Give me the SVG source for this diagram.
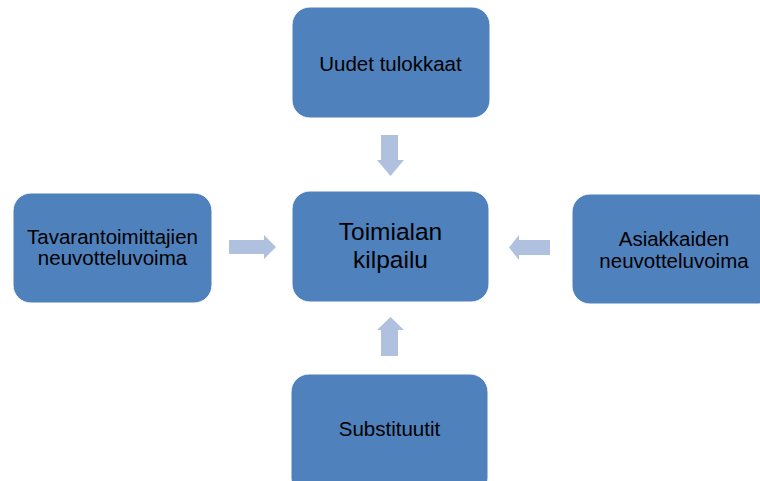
<svg xmlns="http://www.w3.org/2000/svg" width="760" height="481" viewBox="0 0 760 481">
<style>
.node{fill:#4F81BD;stroke:#ffffff;stroke-width:1}
.arr{fill:#AFC1DE}
text{font-family:"Liberation Sans",Arial,sans-serif;fill:#000;text-anchor:middle}
.s{font-size:20.5px}
.l{font-size:24.5px}
</style>
<rect width="760" height="481" fill="#ffffff"/>
<g id="connectors">
<polygon class="arr" points="381,135 398,135 398,160 404,160 390.5,176 377,160 381,160"/>
<polygon class="arr" points="381,356 398,356 398,330 404,330 390.5,317 377,330 381,330"/>
<polygon class="arr" points="229,240 264,240 264,235 276,247 264,259 264,254 229,254"/>
<polygon class="arr" points="550,240 519,240 519,235 509,247.5 519,260 519,255 550,255"/>
</g>
<g id="node-top">
<rect class="node" x="292" y="7" width="198" height="111" rx="18"/>
<text class="s" x="390.5" y="71">Uudet tulokkaat</text>
</g>
<g id="node-center">
<rect class="node" x="292" y="191" width="197" height="111" rx="18"/>
<text class="l" x="390.5" y="240">Toimialan</text>
<text class="l" x="390.5" y="268">kilpailu</text>
</g>
<g id="node-left">
<rect class="node" x="13" y="193" width="199" height="110" rx="18"/>
<text class="s" x="112.5" y="244">Tavarantoimittajien</text>
<text class="s" x="112.5" y="265">neuvotteluvoima</text>
</g>
<g id="node-right">
<rect class="node" x="572" y="194" width="204" height="110" rx="18"/>
<text class="s" x="674" y="246">Asiakkaiden</text>
<text class="s" x="674" y="267.5">neuvotteluvoima</text>
</g>
<g id="node-bottom">
<rect class="node" x="291" y="374" width="197" height="122" rx="18"/>
<text class="s" x="389.5" y="436">Substituutit</text>
</g>
</svg>
